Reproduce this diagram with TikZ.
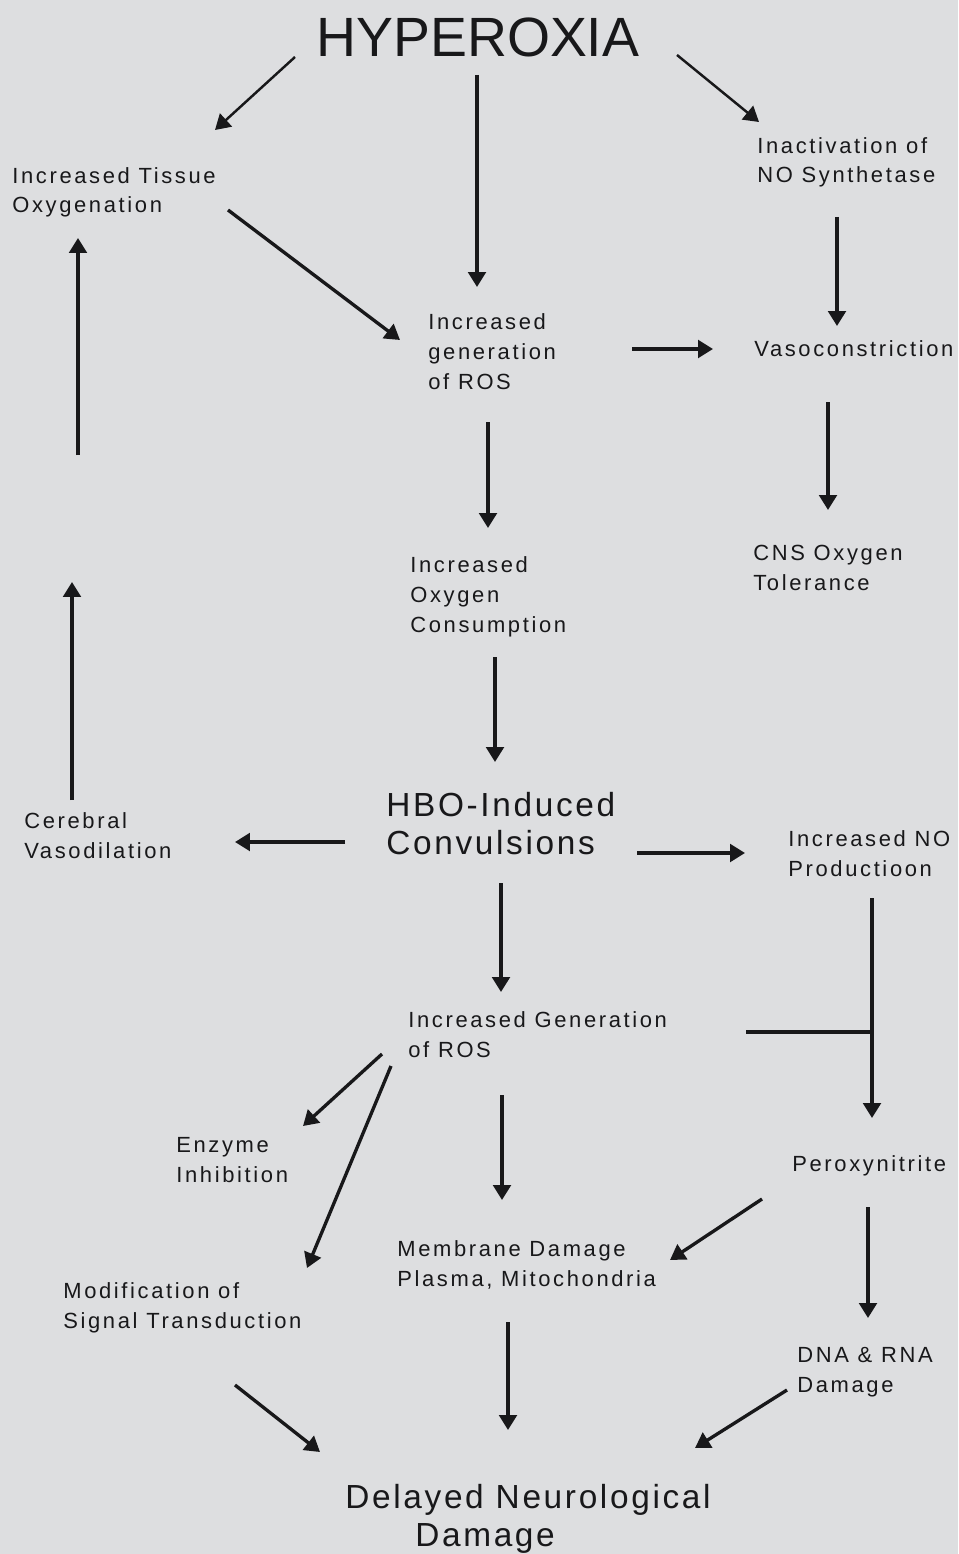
\documentclass[tikz,border=0pt]{standalone}
\usepackage{fontspec}
\newfontfamily\lblfont[LetterSpace=12]{Liberation Sans}
\newfontfamily\headfont[LetterSpace=8]{Liberation Sans}
\newfontfamily\topfont{Liberation Sans}
\usetikzlibrary{arrows.meta}
\definecolor{paper}{RGB}{221,222,224}
\definecolor{ink}{RGB}{24,24,26}

\begin{document}
\begin{tikzpicture}[x=0.02cm,y=-0.02cm,
  lbl/.style={anchor=base west,align=left,inner sep=0pt,text=ink,font=\lblfont\fontsize{12.5}{17}\selectfont},
  head/.style={anchor=base west,align=left,inner sep=0pt,text=ink,font=\headfont\fontsize{19}{21.6}\selectfont},
  arr/.style={ink,line width=1.9pt,-{Triangle[length=8.5pt,width=10pt]}},
  bar/.style={ink,line width=1.9pt}]

\useasboundingbox[fill=paper] (0,0) rectangle (958,1554);

% texts (base of the last line)
\node[anchor=base west,inner sep=0pt,text=ink,font=\topfont\fontsize{31.5}{36}\selectfont] (hyp) at (316,57) {HYPEROXIA};
\node[lbl] (tis) at (12,213) {Increased Tissue\\Oxygenation};
\node[lbl] (ina) at (757,183) {Inactivation of\\NO Synthetase};
\node[lbl] (rosA) at (428,389) {Increased\\generation\\of ROS};
\node[lbl] (vas) at (754,357) {Vasoconstriction};
\node[lbl] (cns) at (753,590) {CNS Oxygen\\Tolerance};
\node[lbl] (oxy) at (410,632) {Increased\\Oxygen\\Consumption};
\node[head] (hbo) at (386,854) {HBO-Induced\\Convulsions};
\node[lbl] (cer) at (24,858) {Cerebral\\Vasodilation};
\node[lbl] (nop) at (788,876) {Increased NO\\Productioon};
\node[lbl] (rosB) at (408,1057) {Increased Generation\\of ROS};
\node[lbl] (enz) at (176,1182) {Enzyme\\Inhibition};
\node[lbl] (per) at (792,1171) {Peroxynitrite};
\node[lbl] (mem) at (397,1286) {Membrane Damage\\Plasma, Mitochondria};
\node[lbl] (mod) at (63,1328) {Modification of\\Signal Transduction};
\node[lbl] (dna) at (797,1392) {DNA \& RNA\\Damage};
\node[head] (del) at (345,1546) {Delayed Neurological\\\hspace*{39.8pt}Damage};

% arrow ends
\coordinate (hyp-l) at (295,57);   \coordinate (tis-t) at (215,130);
\coordinate (hyp-s) at (477,75);   \coordinate (rosA-n) at (477,287);
\coordinate (hyp-r) at (677,55);   \coordinate (ina-n) at (759,122);
\coordinate (tis-e) at (228,210);  \coordinate (rosA-w) at (400,340);
\coordinate (rosA-e) at (632,349); \coordinate (vas-w) at (713,349);
\coordinate (ina-s) at (837,217);  \coordinate (vas-n) at (837,326);
\coordinate (vas-s) at (828,402);  \coordinate (cns-n) at (828,510);
\coordinate (up1-s) at (78,455);   \coordinate (tis-s) at (78,238);
\coordinate (rosA-s) at (488,422); \coordinate (oxy-n) at (488,528);
\coordinate (oxy-s) at (495,657);  \coordinate (hbo-n) at (495,762);
\coordinate (hbo-w) at (345,842);  \coordinate (cer-e) at (235,842);
\coordinate (cer-n) at (72,800);   \coordinate (up2-n) at (72,582);
\coordinate (hbo-e) at (637,853);  \coordinate (nop-w) at (745,853);
\coordinate (nop-s) at (872,898);  \coordinate (per-n) at (872,1118);
\coordinate (rosB-e) at (746,1032); \coordinate (join) at (872,1032);
\coordinate (hbo-s) at (501,883);  \coordinate (rosB-n) at (501,992);
\coordinate (rosB-a) at (382,1054); \coordinate (enz-n) at (303,1126);
\coordinate (rosB-b) at (391,1066); \coordinate (mod-n) at (307,1268);
\coordinate (rosB-s) at (502,1095); \coordinate (mem-n) at (502,1200);
\coordinate (per-w) at (762,1199); \coordinate (mem-e) at (670,1260);
\coordinate (per-s) at (868,1207); \coordinate (dna-n) at (868,1318);
\coordinate (mod-e) at (235,1385); \coordinate (del-a) at (320,1452);
\coordinate (mem-s) at (508,1322); \coordinate (del-b) at (508,1430);
\coordinate (dna-w) at (787,1390); \coordinate (del-c) at (695,1448);

% arrows
\draw[arr,line width=1.4pt] (hyp-l) -- (tis-t);
\draw[arr] (hyp-s) -- (rosA-n);
\draw[arr,line width=1.4pt] (hyp-r) -- (ina-n);
\draw[arr] (tis-e) -- (rosA-w);
\draw[arr] (rosA-e) -- (vas-w);
\draw[arr] (ina-s) -- (vas-n);
\draw[arr] (vas-s) -- (cns-n);
\draw[arr] (up1-s) -- (tis-s);
\draw[arr] (rosA-s) -- (oxy-n);
\draw[arr] (oxy-s) -- (hbo-n);
\draw[arr] (hbo-w) -- (cer-e);
\draw[arr] (cer-n) -- (up2-n);
\draw[arr] (hbo-e) -- (nop-w);
\draw[arr] (nop-s) -- (per-n);
\draw[bar] (rosB-e) -- (join);
\draw[arr] (hbo-s) -- (rosB-n);
\draw[arr] (rosB-a) -- (enz-n);
\draw[arr] (rosB-b) -- (mod-n);
\draw[arr] (rosB-s) -- (mem-n);
\draw[arr] (per-w) -- (mem-e);
\draw[arr] (per-s) -- (dna-n);
\draw[arr] (mod-e) -- (del-a);
\draw[arr] (mem-s) -- (del-b);
\draw[arr] (dna-w) -- (del-c);

\end{tikzpicture}
\end{document}
